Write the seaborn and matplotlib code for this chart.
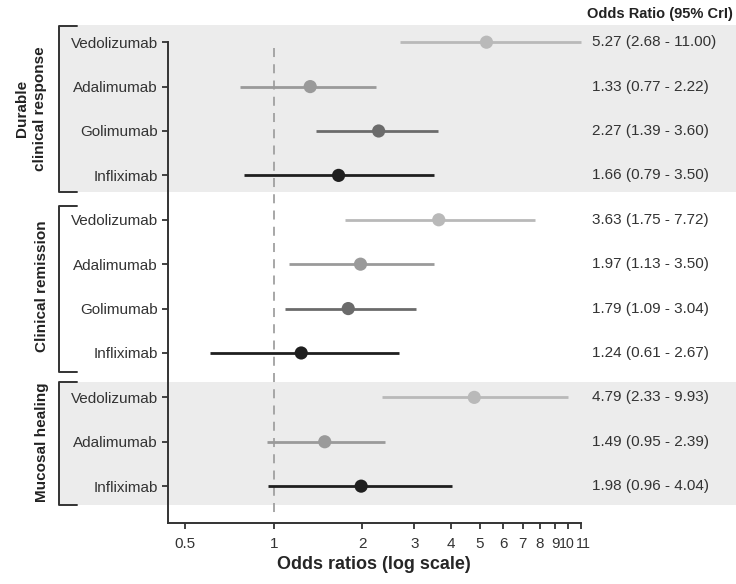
import numpy as np
import pandas as pd
import matplotlib
matplotlib.use("Agg")
import matplotlib.pyplot as plt
import matplotlib.transforms as mtransforms
from matplotlib.patches import Rectangle
import seaborn as sns

# ---------------- data ----------------
groups = ["Durable\nclinical response"] * 4 + ["Clinical remission"] * 4 + ["Mucosal healing"] * 3
drugs = ["Vedolizumab", "Adalimumab", "Golimumab", "Infliximab",
         "Vedolizumab", "Adalimumab", "Golimumab", "Infliximab",
         "Vedolizumab", "Adalimumab", "Infliximab"]
odds = [5.27, 1.33, 2.27, 1.66, 3.63, 1.97, 1.79, 1.24, 4.79, 1.49, 1.98]
lower = [2.68, 0.77, 1.39, 0.79, 1.75, 1.13, 1.09, 0.61, 2.33, 0.95, 0.96]
upper = [11.00, 2.22, 3.60, 3.50, 7.72, 3.50, 3.04, 2.67, 9.93, 2.39, 4.04]
xticks = [0.5, 1, 2, 3, 4, 5, 6, 7, 8, 9, 10, 11]
xticklabels = ["0.5", "1", "2", "3", "4", "5", "6", "7", "8", "9", "10", "11"]
drug_colors = {"Vedolizumab": "#b9b9b9", "Adalimumab": "#9a9a9a",
               "Golimumab": "#6b6b6b", "Infliximab": "#1f1f1f"}

df = pd.DataFrame({"group": groups, "drug": drugs, "odds": odds,
                   "lower": lower, "upper": upper})
df["row"] = np.arange(len(df))

sns.set_style("ticks")
plt.rcParams["font.family"] = ["Liberation Sans", "DejaVu Sans"]
plt.rcParams["text.color"] = "#222222"

fig = plt.figure(figsize=(7.36, 5.84), dpi=100)
ax = fig.add_axes([168 / 736, 1 - 523 / 584, 412.7 / 736, 503 / 584])
ax.patch.set_alpha(0)

ax.set_xscale("log")
ax.set_xlim(0.438, 11)
ax.set_ylim(10.83, -0.5)

blend = mtransforms.blended_transform_factory(fig.transFigure, ax.transData)

# shaded group bands
for (y0, y1) in [(-0.38, 3.38), (7.66, 10.43)]:
    ax.add_patch(Rectangle((58 / 736, y0), 1 - 58 / 736, y1 - y0, transform=blend,
                           facecolor="#ececec", edgecolor="none", zorder=0, clip_on=False))

# reference line
ax.plot([1, 1], [0.12, 10.6], ls=(0, (5, 4)), color="#a0a0a0", lw=1.3, zorder=1)

# CIs
for _, r in df.iterrows():
    ax.plot([r.lower, r.upper], [r.row, r.row], color=drug_colors[r.drug], lw=2.0,
            zorder=2, solid_capstyle="butt", clip_on=False)

sns.scatterplot(data=df, x="odds", y="row", hue="drug", palette=drug_colors,
                s=90, edgecolor="none", legend=False, ax=ax, zorder=3, clip_on=False)

# axes styling
ax.set_yticks(df["row"])
ax.set_yticklabels(df["drug"])
ax.set_xticks(xticks)
ax.set_xticklabels(xticklabels)
ax.xaxis.set_minor_locator(matplotlib.ticker.NullLocator())
ax.tick_params(axis="both", labelsize=11, colors="#333333", labelcolor="#333333",
               length=4, width=1.3)
ax.tick_params(axis="x", pad=6)
xl = ax.get_xticklabels()
for lbl, dx in zip(xl[-2:], [-2.0, 3.0]):
    lbl.set_fontsize(10.2)
    lbl.set_transform(lbl.get_transform() +
                      mtransforms.ScaledTranslation(dx / 100, 0, fig.dpi_scale_trans))
ax.set_xlabel("Odds ratios (log scale)", fontsize=13, fontweight="bold", labelpad=4)
ax.set_ylabel("")
for s in ["top", "right"]:
    ax.spines[s].set_visible(False)
for s in ["left", "bottom"]:
    ax.spines[s].set_color("#333333")
    ax.spines[s].set_linewidth(1.4)
ax.spines["left"].set_bounds(0, 10.83)

# group brackets and labels
brackets = [(-0.36, 3.38, 1.5, "Durable\nclinical response", 31),
            (3.69, 7.43, 5.5, "Clinical remission", 42),
            (7.66, 10.43, 9.0, "Mucosal healing", 42)]
for y0, y1, yc, lab, xlp in brackets:
    xs = np.array([77, 59, 59, 77]) / 736
    ax.plot(xs, [y0, y0, y1, y1], transform=blend, color="#333333", lw=1.4,
            clip_on=False, zorder=4)
    ax.text(xlp / 736, yc, lab, transform=blend, rotation=90, ha="center", va="center",
            fontsize=11, fontweight="bold", multialignment="center", linespacing=1.45)

# right-hand text
ax.text(660 / 736, 1 - 14 / 584, "Odds Ratio (95% CrI)", transform=fig.transFigure,
        ha="center", va="center", fontsize=10.5, fontweight="bold")
for _, r in df.iterrows():
    ax.text(592 / 736, r.row, f"{r.odds:.2f} ({r.lower:.2f} - {r.upper:.2f})",
            transform=blend, ha="left", va="center", fontsize=11, color="#333333")

fig.savefig("out.png", dpi=100)
